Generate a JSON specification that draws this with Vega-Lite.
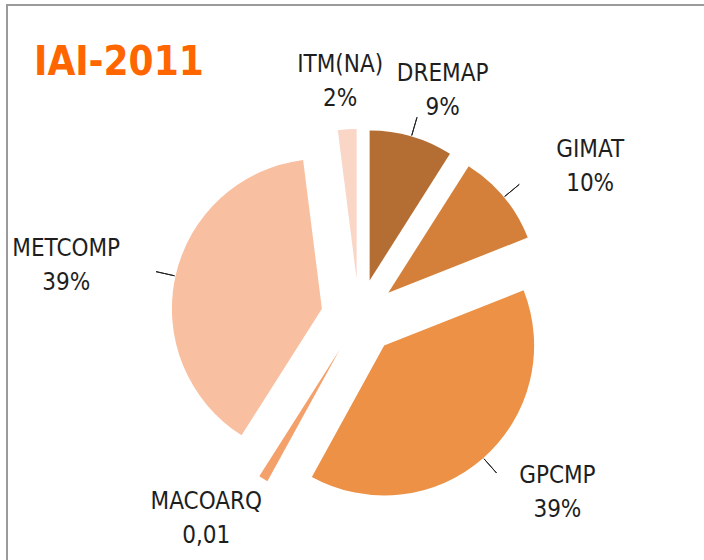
{
  "$schema": "https://vega.github.io/schema/vega-lite/v6.json",
  "width": 704,
  "height": 624,
  "autosize": {"type": "none"},
  "padding": {"left": 7, "top": 5, "right": 0, "bottom": 0},
  "background": "white",
  "view": {"stroke": "#9a9a9a", "strokeWidth": 2},
  "title": {
    "text": "IAI-2011",
    "anchor": "start",
    "frame": "group",
    "orient": "top",
    "offset": 0,
    "baseline": "alphabetic",
    "dx": 27,
    "dy": 110,
    "font": "Liberation Sans Narrow, DejaVu Sans Condensed, sans-serif",
    "fontSize": 40,
    "fontWeight": "bold",
    "color": "#FF6600"
  },
  "data": {
    "values": [
      {"idx": 1, "name": "DREMAP", "value": 9, "label": "9%"},
      {"idx": 2, "name": "GIMAT", "value": 10, "label": "10%"},
      {"idx": 3, "name": "GPCMP", "value": 39, "label": "39%"},
      {"idx": 4, "name": "MACOARQ", "value": 1, "label": "0,01"},
      {"idx": 5, "name": "METCOMP", "value": 39, "label": "39%"},
      {"idx": 6, "name": "ITM(NA)", "value": 2, "label": "2%"}
    ]
  },
  "encoding": {
    "theta": {"field": "value", "type": "quantitative", "stack": true},
    "order": {"field": "idx", "type": "quantitative"}
  },
  "layer": [
    {
      "mark": {
        "type": "arc",
        "outerRadius": 150,
        "xOffset": {"expr": "38*sin(PI*(datum.value_start+datum.value_end)/100)"},
        "yOffset": {"expr": "-38*cos(PI*(datum.value_start+datum.value_end)/100)"}
      },
      "encoding": {
        "color": {
          "field": "name",
          "type": "nominal",
          "legend": null,
          "scale": {
            "domain": ["DREMAP", "GIMAT", "GPCMP", "MACOARQ", "METCOMP", "ITM(NA)"],
            "range": ["#B46E34", "#D4803A", "#EC9146", "#F4A06A", "#F8C0A0", "#F9D6C6"]
          }
        }
      }
    },
    {
      "mark": {
        "type": "arc",
        "innerRadius": 189,
        "outerRadius": 208,
        "padAngle": 3,
        "filled": false,
        "stroke": "#222222",
        "strokeWidth": 1
      },
      "encoding": {
        "strokeOpacity": {
          "condition": {"test": "datum.name === 'ITM(NA)' || datum.name === 'MACOARQ'", "value": 0},
          "value": 1
        }
      }
    },
    {
      "mark": {
        "type": "text",
        "radius": 235,
        "dx": {"expr": "65*sin(PI*(datum.value_start+datum.value_end)/100)"},
        "dy": -17,
        "font": "Liberation Sans Narrow, DejaVu Sans Condensed, sans-serif",
        "fontSize": 24,
        "color": "#1e1e1e"
      },
      "encoding": {"text": {"field": "name"}}
    },
    {
      "mark": {
        "type": "text",
        "radius": 235,
        "dx": {"expr": "65*sin(PI*(datum.value_start+datum.value_end)/100)"},
        "dy": 17,
        "font": "Liberation Sans Narrow, DejaVu Sans Condensed, sans-serif",
        "fontSize": 24,
        "color": "#1e1e1e"
      },
      "encoding": {"text": {"field": "label"}}
    }
  ]
}
